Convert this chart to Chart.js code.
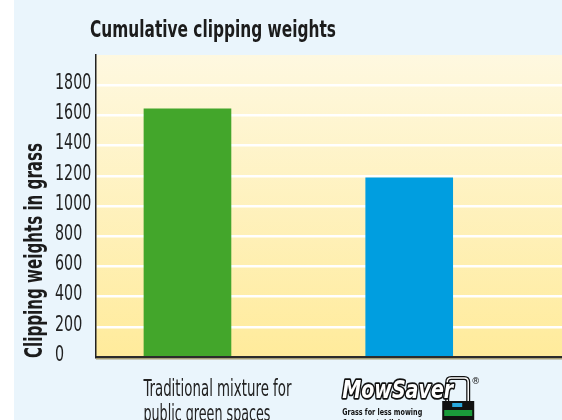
<!DOCTYPE html>
<html>
<head>
<meta charset="utf-8">
<script src="https://cdn.jsdelivr.net/npm/chart.js@4.4.1/dist/chart.umd.min.js"></script>
<style>
  html, body { margin: 0; padding: 0; background: #eaf5fc; }
</style>
</head>
<body>
<canvas id="myChart" width="562" height="420"></canvas>
<script>
// dati del grafico
const chartTitle = 'Cumulative clipping weights';
const yTitle = 'Clipping weights in grass';
const categories = ['Traditional mixture for public green spaces', 'MowSaver'];
const clippingWeights = [1643, 1187];
const barColors = ['#43a62b', '#009ee0'];
const yTicks = [0, 200, 400, 600, 800, 1000, 1200, 1400, 1600, 1800];
const firstLabelLines = ['Traditional mixture for', 'public green spaces'];
const logoTagline = ['Grass for less mowing', '& fast establishment'];

const narrow = "'Liberation Sans Narrow', 'DejaVu Sans Condensed', sans-serif";

// testo stretto: stessa altezza, larghezza ridotta
function narrowText(ctx, txt, x, y, squeeze) {
  const w = ctx.measureText(txt).width;
  ctx.fillText(txt, x, y, w * squeeze);
}

// sfondo, titoli, etichette e logo
const decor = {
  id: 'decor',
  beforeDraw(chart) {
    const ctx = chart.ctx;
    const a = chart.chartArea;
    ctx.save();
    ctx.fillStyle = '#eaf5fc';
    ctx.fillRect(0, 0, chart.width, chart.height);
    ctx.fillStyle = '#ffffff';
    ctx.fillRect(0, 0, 14, chart.height);
    const g = ctx.createLinearGradient(0, a.top, 0, a.bottom);
    g.addColorStop(0, '#fef8e0');
    g.addColorStop(1, '#ffeb9b');
    ctx.fillStyle = g;
    ctx.fillRect(a.left, a.top, a.right - a.left, a.bottom - a.top);
    ctx.restore();
  },
  afterDraw(chart) {
    const ctx = chart.ctx;
    const a = chart.chartArea;
    const x = chart.scales.x;
    const y = chart.scales.y;
    ctx.save();
    ctx.fillStyle = '#1c1c1c';
    ctx.textAlign = 'left';
    ctx.textBaseline = 'alphabetic';

    ctx.font = 'bold 23px ' + narrow;
    ctx.fillText(chartTitle, 90, 37, 246);

    ctx.save();
    ctx.translate(42, 358);
    ctx.rotate(-Math.PI / 2);
    ctx.font = 'bold 24px ' + narrow;
    ctx.fillText(yTitle, 0, 0, 215);
    ctx.restore();

    // etichette asse y
    ctx.fillStyle = '#222';
    ctx.font = '22px ' + narrow;
    ctx.textBaseline = 'middle';
    yTicks.forEach(v => {
      narrowText(ctx, String(v), 55, y.getPixelForValue(v) - 2, 0.72);
    });
    ctx.textBaseline = 'alphabetic';

    // ombra sotto l'asse x
    ctx.fillStyle = '#a59d74';
    ctx.fillRect(a.left, a.bottom + 1, a.right - a.left, 1.5);

    // etichetta categoria 1
    const x0 = x.getPixelForValue(0) - 44;
    ctx.fillStyle = '#222';
    ctx.font = '23px ' + narrow;
    ctx.fillText(firstLabelLines[0], x0, 396, 148);
    ctx.fillText(firstLabelLines[1], x0, 421, 127);

    // logo categoria 2
    const x1 = x.getPixelForValue(1) - 67;
    // tosaerba
    ctx.lineWidth = 4;
    ctx.strokeStyle = '#111';
    ctx.beginPath();
    ctx.moveTo(x1 + 105, 402);
    ctx.lineTo(x1 + 105, 382);
    ctx.quadraticCurveTo(x1 + 105, 378, x1 + 109, 378);
    ctx.lineTo(x1 + 122, 378);
    ctx.quadraticCurveTo(x1 + 126, 378, x1 + 126, 382);
    ctx.lineTo(x1 + 126, 402);
    ctx.stroke();
    ctx.lineWidth = 1.5;
    ctx.strokeStyle = '#fff';
    ctx.stroke();
    ctx.fillStyle = '#111';
    ctx.fillRect(x1 + 100, 401, 32, 19);
    ctx.fillStyle = '#1a9a3a';
    ctx.fillRect(x1 + 102, 410, 28, 6);
    ctx.fillStyle = '#2aa7dc';
    ctx.fillRect(x1 + 110, 403, 10, 4);

    ctx.font = 'bold italic 24px "DejaVu Sans", sans-serif';
    ctx.lineJoin = 'round';
    ctx.lineWidth = 3.5;
    ctx.strokeStyle = '#111';
    ctx.strokeText('MowSaver', x1, 398, 111);
    ctx.fillStyle = '#fff';
    ctx.fillText('MowSaver', x1, 398, 111);

    ctx.fillStyle = '#111';
    ctx.font = '9px "DejaVu Sans", sans-serif';
    ctx.fillText('\u00ae', x1 + 129, 384);
    ctx.font = 'bold 9px ' + narrow;
    ctx.fillText(logoTagline[0], x1, 415, 80);
    ctx.fillText(logoTagline[1], x1, 426, 80);
    ctx.restore();
  }
};

const data = {
  datasets: [{
    data: clippingWeights.map((v, i) => ({ x: i, y: v })),
    backgroundColor: barColors,
    borderWidth: 0,
    barThickness: 87
  }]
};

const config = {
  type: 'bar',
  data: data,
  options: {
    responsive: false,
    animation: false,
    layout: { padding: { left: 55, top: 55, right: 0, bottom: 63 } },
    plugins: {
      legend: { display: false },
      tooltip: { enabled: false }
    },
    scales: {
      x: {
        type: 'linear',
        offset: false,
        min: -0.4125,
        max: 1.689,
        z: 1,
        grid: { display: false, offset: false },
        ticks: { display: false },
        border: { display: true, color: '#2b2b2b', width: 2 },
        afterFit: s => { s.height = 0; }
      },
      y: {
        min: 0,
        max: 2000,
        afterFit: s => { s.width = 41; },
        afterBuildTicks: s => { s.ticks = yTicks.map(v => ({ value: v })); },
        grid: { color: '#ffffff', lineWidth: 2.5, drawTicks: false },
        border: { display: true, color: '#222', width: 1.5 },
        ticks: { display: false }
      }
    }
  },
  plugins: [decor]
};

const myChart = new Chart(document.getElementById('myChart'), config);
</script>
</body>
</html>
